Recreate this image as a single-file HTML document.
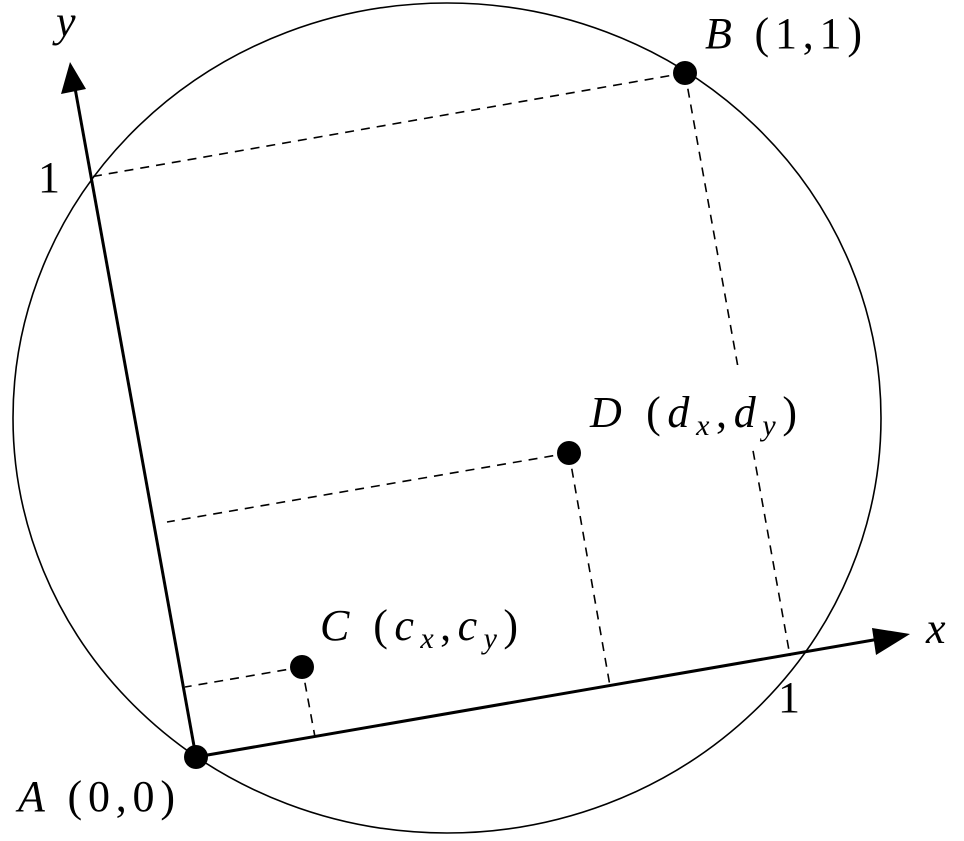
<!DOCTYPE html>
<html><head><style>
html,body{margin:0;padding:0;background:#fff;}
text{font-family:"Liberation Serif",serif;font-size:44px;fill:#000;}
.i{font-style:italic;}
</style></head><body>
<svg width="964" height="836" viewBox="0 0 964 836" xmlns="http://www.w3.org/2000/svg">
<ellipse cx="447" cy="418" rx="434" ry="415" fill="none" stroke="#000" stroke-width="1.6"/>
<g stroke="#000" stroke-width="1.6" stroke-dasharray="9,7" fill="none">
<line x1="685" y1="73" x2="90" y2="177"/>
<line x1="685" y1="73" x2="790" y2="656"/>
<line x1="569" y1="453" x2="167" y2="522"/>
<line x1="569" y1="453" x2="610" y2="686"/>
<line x1="302" y1="667" x2="185" y2="687"/>
<line x1="302" y1="667" x2="315" y2="737"/>
</g>
<rect x="730" y="365" width="40" height="85" fill="#fff"/>
<g stroke="#000" stroke-width="3">
<line x1="196" y1="757" x2="885" y2="638"/>
<line x1="196" y1="757" x2="75" y2="88"/>
</g>
<polygon points="910,634 876,655 872,628" fill="#000"/>
<polygon points="70,62 61,94 86,89" fill="#000"/>
<g fill="#000">
<circle cx="196" cy="757" r="12"/>
<circle cx="685" cy="73" r="12"/>
<circle cx="569" cy="453" r="12"/>
<circle cx="302" cy="667" r="12"/>
</g>
<text x="56" y="36" class="i">y</text>
<text x="926" y="643" class="i">x</text>
<text x="38" y="192">1</text>
<text x="778" y="712">1</text>
<text x="705" y="48" textLength="157" lengthAdjust="spacing"><tspan class="i">B</tspan> (1,1)</text>
<text x="590" y="427" textLength="207" lengthAdjust="spacing"><tspan class="i">D</tspan> (<tspan class="i">d</tspan><tspan class="i" font-size="30" dy="8">x</tspan><tspan dy="-8">,</tspan><tspan class="i">d</tspan><tspan class="i" font-size="30" dy="8">y</tspan><tspan dy="-8">)</tspan></text>
<text x="320" y="640" textLength="198" lengthAdjust="spacing"><tspan class="i">C</tspan> (<tspan class="i">c</tspan><tspan class="i" font-size="30" dy="8">x</tspan><tspan dy="-8">,</tspan><tspan class="i">c</tspan><tspan class="i" font-size="30" dy="8">y</tspan><tspan dy="-8">)</tspan></text>
<text x="18" y="811" textLength="157" lengthAdjust="spacing"><tspan class="i">A</tspan> (0,0)</text>
</svg>
</body></html>
